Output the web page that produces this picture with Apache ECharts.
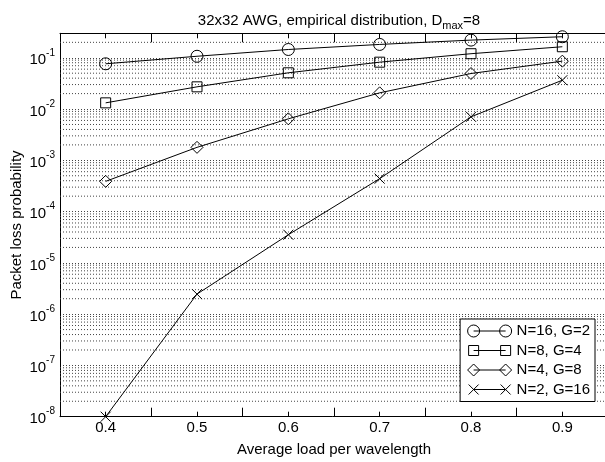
<!DOCTYPE html>
<html>
<head>
<meta charset="utf-8">
<script src="https://cdn.jsdelivr.net/npm/echarts@6/dist/echarts.min.js"></script>
<style>
  html, body { margin: 0; padding: 0; background: #fff; }
  #chart { width: 605px; height: 462px; }
</style>
</head>
<body>
<div id="chart"></div>
<script>
// Average load per wavelength (x) and packet loss probability per configuration
const loads = [0.4, 0.5, 0.6, 0.7, 0.8, 0.9];
const lossN16G2 = [0.0763, 0.107, 0.145, 0.182, 0.221, 0.257];
const lossN8G4  = [0.0132, 0.0271, 0.0509, 0.082, 0.120, 0.164];
const lossN4G8  = [3.89e-4, 1.79e-3, 6.44e-3, 0.0207, 0.0493, 0.0859];
const lossN2G16 = [1e-8, 2.46e-6, 3.54e-5, 4.39e-4, 7.05e-3, 0.0365];
const seriesNames = ['N=16, G=2', 'N=8, G=4', 'N=4, G=8', 'N=2, G=16'];
const xTickLabels = ['0.4', '0.5', '0.6', '0.7', '0.8', '0.9'];
const yDecades = [-8, -7, -6, -5, -4, -3, -2, -1];

const FONT = '"Liberation Sans", Arial, Helvetica, sans-serif';
const X_MIN = 0.35, X_MAX = 0.95;
const Y_MIN = 1e-8, Y_MAX = 0.3;
const GRID_COLOR = '#444';

// minor log grid lines at 2..9 x 10^k
const minorGrid = [];
yDecades.forEach(k => {
  for (let m = 2; m <= 9; m++) {
    const v = m * Math.pow(10, k);
    if (v < Y_MAX) minorGrid.push(v);
  }
});

const legendIcons = [
  'path://M0,0M44,12M0,6A6,6,0,1,1,12,6A6,6,0,1,1,0,6ZM6,6L38,6M32,6A6,6,0,1,1,44,6A6,6,0,1,1,32,6Z',
  'path://M0,0M44,12M1,1H11V11H1ZM6,6L38,6M33,1H43V11H33Z',
  'path://M0,0M44,12M0,6L6,0L12,6L6,12ZM6,6L38,6M32,6L38,0L44,6L38,12Z',
  'path://M0,0M44,12M1,1L11,11M1,11L11,1M6,6L38,6M33,1L43,11M33,11L43,1'
];
const symbols = ['circle', 'rect', 'diamond', 'path://M0,0L10,10M0,10L10,0'];
const symbolSizes = [12, 10, 12, 10];
const values = [lossN16G2, lossN8G4, lossN4G8, lossN2G16];

const gridDot = { color: GRID_COLOR, width: 1, type: [1, 2] };

function xLabel(v) {
  const s = v.toFixed(1);
  return (Math.abs(v - parseFloat(s)) < 1e-6 && xTickLabels.indexOf(s) >= 0) ? s : '';
}
function yLabel(v) {
  const e = Math.round(Math.log10(v));
  if (Math.abs(Math.log10(v) - e) > 1e-6 || yDecades.indexOf(e) < 0) return '';
  return '{b|10}{s|' + e + '}';
}

const mk = (pos, interval, len, showLine) => ({
  type: 'value', position: pos, min: X_MIN, max: X_MAX, interval: interval,
  axisLine: { show: showLine, onZero: false, lineStyle: { color: '#000', width: 1 } },
  axisTick: { show: true, inside: true, length: len, lineStyle: { color: '#000', width: 1 } },
  axisLabel: { show: false },
  splitLine: { show: false }
});

const xAxes = [
  Object.assign(mk('bottom', 0.05, 5, true), {
    axisLabel: { show: true, formatter: xLabel, color: '#000', fontSize: 15, fontFamily: FONT, margin: 4 },
    name: 'Average load per wavelength', nameLocation: 'middle', nameGap: 26, nameMoveOverlap: false,
    nameTextStyle: { color: '#000', fontSize: 15, fontFamily: FONT }
  }),
  mk('bottom', 0.1, 9, false),
  mk('top', 0.05, 5, true),
  mk('top', 0.1, 9, false)
];

const series = seriesNames.map((name, i) => ({
  name: name,
  type: 'line',
  xAxisIndex: 0,
  data: loads.map((x, j) => [x, values[i][j]]),
  symbol: symbols[i],
  symbolSize: symbolSizes[i],
  showAllSymbol: true,
  clip: true,
  lineStyle: { color: '#000', width: 1 },
  itemStyle: { color: 'transparent', borderColor: '#000', borderWidth: 1 },
  emphasis: { disabled: true },
  silent: true,
  animation: false,
  z: 5
}));

// dotted minor grid drawn through the axes' own scales
series.unshift({
  type: 'custom',
  name: 'minor-grid',
  xAxisIndex: 0,
  silent: true,
  animation: false,
  z: 1,
  clip: true,
  data: minorGrid.map(v => [X_MIN, v]),
  encode: { x: 0, y: 1 },
  renderItem: (params, api) => {
    const v = api.value(1);
    const p1 = api.coord([X_MIN, v]);
    const p2 = api.coord([X_MAX, v]);
    return {
      type: 'line',
      shape: { x1: p1[0], y1: p1[1], x2: p2[0], y2: p2[1] },
      style: { stroke: GRID_COLOR, lineWidth: 1, lineDash: [1, 2] },
      silent: true
    };
  }
});

const option = {
  backgroundColor: '#fff',
  animation: false,
  title: {
    text: '{t|32x32 AWG, empirical distribution, D}{s|max}{t|=8}',
    left: 334, top: 6, textAlign: 'center',
    textStyle: {
      fontWeight: 'normal',
      rich: {
        t: { fontSize: 15, fontFamily: FONT, fontWeight: 'normal', color: '#000', lineHeight: 20, verticalAlign: 'middle' },
        s: { fontSize: 11, fontFamily: FONT, fontWeight: 'normal', color: '#000', lineHeight: 20, verticalAlign: 'bottom' }
      }
    }
  },
  grid: { left: 60, right: -3, top: 33.3, bottom: 45.3, containLabel: false, outerBoundsMode: 'none' },
  legend: {
    data: seriesNames.map((n, i) => ({ name: n, icon: legendIcons[i] })),
    orient: 'vertical',
    right: 10, top: 319,
    itemWidth: 44, itemHeight: 12, itemGap: 3.5,
    padding: [4, 5, 4, 7],
    backgroundColor: '#fff',
    borderColor: '#000', borderWidth: 1, borderRadius: 0,
    itemStyle: { color: 'transparent', borderColor: '#000', borderWidth: 1 },
    textStyle: { color: '#000', fontSize: 15, fontFamily: FONT, lineHeight: 16 },
    selectedMode: false
  },
  xAxis: xAxes,
  yAxis: {
    type: 'log', logBase: 10, min: Y_MIN, max: Y_MAX,
    axisLine: { show: true, lineStyle: { color: '#000', width: 1 } },
    axisTick: { show: false },
    axisLabel: {
      formatter: yLabel, margin: 5,
      rich: {
        b: { fontSize: 15, fontFamily: FONT, color: '#000', lineHeight: 20, verticalAlign: 'bottom' },
        s: { fontSize: 10, fontFamily: FONT, color: '#000', lineHeight: 20, verticalAlign: 'top' }
      }
    },
    splitLine: { show: true, lineStyle: gridDot },
    minorTick: { show: false },
    name: 'Packet loss probability', nameLocation: 'middle', nameGap: 36, nameRotate: 90,
    nameMoveOverlap: false,
    nameTextStyle: { color: '#000', fontSize: 15, fontFamily: FONT }
  },
  series: series
};

const chart = echarts.init(document.getElementById('chart'), null, { renderer: 'canvas' });
chart.setOption(option);
</script>
</body>
</html>
